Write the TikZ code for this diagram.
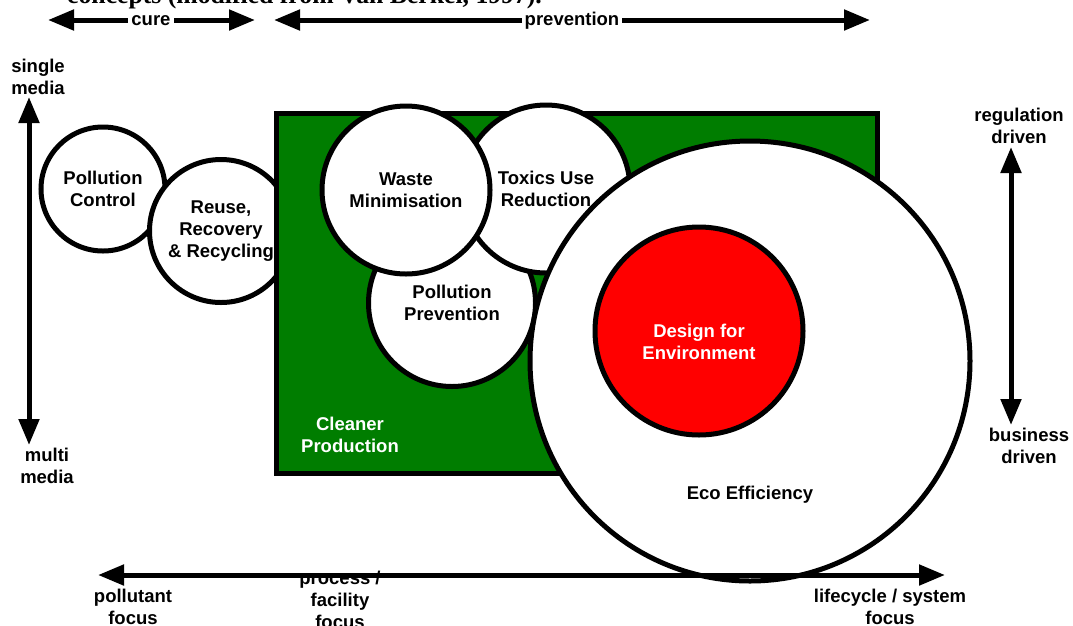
\documentclass[tikz,border=0pt]{standalone}
\usepackage{fontspec}
\setmainfont{Liberation Sans}
\newfontfamily\captionserif{Liberation Serif}
\usetikzlibrary{arrows.meta}
\definecolor{cpgreen}{RGB}{0,125,0}
\definecolor{dfered}{RGB}{255,0,0}

\begin{document}
\begin{tikzpicture}[x=1pt,y=-1pt,
  lbl/.style={font=\fontsize{18.5}{22}\selectfont\bfseries, align=center, inner sep=0pt},
  bubble/.style={circle, draw=black, line width=5pt, fill=white, inner sep=0pt, lbl},
  axis/.style={line width=5pt,
    {Triangle[length=26pt,width=20pt]}-{Triangle[length=26pt,width=20pt]}},
  onaxis/.style={lbl, anchor=base, fill=white, inner xsep=3pt},
]
\useasboundingbox (0,0) rectangle (1073,625);

% caption line above the figure
\node[anchor=base west, inner sep=0pt,
      font=\captionserif\bfseries\fontsize{25.7}{30}\selectfont]
  (cap) at (67,3) {concepts (modified from Van Berkel, 1997).};

% end-of-pipe approaches
\node[bubble, minimum size=124pt] (pc) at (103,189) {Pollution\\Control};
\node[bubble, minimum size=143pt] (rrr) at (221,231) {Reuse,\\Recovery\\\& Recycling};

% cleaner production field
\node[draw=black, fill=cpgreen, line width=5pt, minimum width=601pt,
      minimum height=360pt, inner sep=0pt] (cp) at (576.5,293) {};
\node[lbl, text=white] (cptext) at (350,435) {Cleaner\\Production};

% prevention approaches
\node[bubble, minimum size=167pt] (pp) at (452,303) {};
\node[lbl] (pptext) at (452,303) {Pollution\\Prevention};
\node[bubble, minimum size=168pt] (tur) at (546,189) {Toxics Use\\Reduction};
\node[bubble, minimum size=168pt] (wm) at (406,190) {Waste\\Minimisation};

% eco efficiency and design for environment
\node[bubble, minimum size=440pt] (eco) at (750,361) {};
\node[lbl] (ecotext) at (750,495) {Eco Efficiency};
\node[bubble, fill=dfered, minimum size=208pt] (dfe) at (699,331) {};
\node[lbl, text=white] (dfetext) at (699,342) {Design for\\Environment};

% top scale: cure / prevention
\coordinate (cureL) at (48,20);
\coordinate (cureR) at (255,20);
\coordinate (prevL) at (274,20);
\coordinate (prevR) at (870,20);
\draw[axis] (cureL) -- (cureR);
\draw[axis] (prevL) -- (prevR);
\node[onaxis] (cure) at (151,25) {cure};
\node[onaxis] (prev) at (572,25) {prevention};

% left scale: single / multi media
\coordinate (mediaT) at (29,97);
\coordinate (mediaB) at (29,445);
\draw[axis] (mediaT) -- (mediaB);
\node[lbl] (single) at (38,77) {single\\media};
\node[lbl] (multi) at (47,466) {multi\\media};

% right scale: regulation / business driven
\coordinate (drvT) at (1011,147);
\coordinate (drvB) at (1011,425);
\draw[axis] (drvT) -- (drvB);
\node[lbl] (reg) at (1019,126) {regulation\\driven};
\node[lbl] (bus) at (1029,446) {business\\driven};

% bottom scale: focus
\node[lbl] (pollf) at (133,607) {pollutant\\focus};
\node[lbl] (procf) at (340,600) {process /\\facility\\focus};
\node[lbl] (lifef) at (890,607) {lifecycle / system\\focus};
\coordinate (focL) at (98,575);
\coordinate (focR) at (945,575);
\draw[axis] (focL) -- (focR);
\end{tikzpicture}
\end{document}
